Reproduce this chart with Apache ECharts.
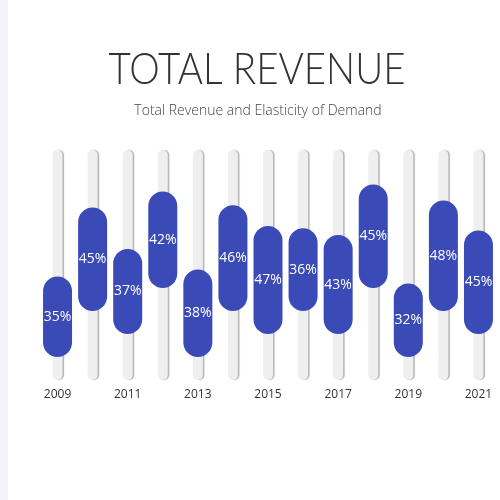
<!DOCTYPE html>
<html>
<head>
<meta charset="utf-8">
<script src="https://cdn.jsdelivr.net/npm/echarts@6/dist/echarts.min.js"></script>
<style>
  html, body { margin: 0; padding: 0; background: #fff; }
  #main { width: 500px; height: 500px; }
</style>
</head>
<body>
<div id="main"></div>
<script>
// chart data
var years = ['2009', '2010', '2011', '2012', '2013', '2014', '2015', '2016', '2017', '2018', '2019', '2020', '2021'];
var pillStart = [10, 30, 20, 40, 10, 30, 20, 30, 20, 40, 10, 30, 20];
var elasticity = [35, 45, 37, 42, 38, 46, 47, 36, 43, 45, 32, 48, 45];
var trackMax = 100;

var trackData = years.map(function () { return trackMax; });

var myChart = echarts.init(document.getElementById('main'));

var option = {
	backgroundColor: '#fff',
	animation: false,
	graphic: [{
		type: 'rect',
		shape: { x: 0, y: 0, width: 8, height: 500 },
		style: { fill: '#f3f3f8' },
		silent: true
	}, {
		type: 'text',
		x: 257,
		y: 70,
		scaleX: 0.875,
		style: {
			text: 'TOTAL REVENUE',
			fill: '#333',
			font: '300 44px Lato, sans-serif',
			textAlign: 'center',
			textVerticalAlign: 'middle'
		}
	}, {
		type: 'text',
		x: 258,
		y: 111,
		style: {
			text: 'Total Revenue and Elasticity of Demand',
			fill: '#444',
			font: '300 14px "Open Sans", sans-serif',
			textAlign: 'center',
			textVerticalAlign: 'middle'
		}
	}],
	grid: {
		left: 40,
		right: 4,
		top: 150,
		bottom: 120
	},
	xAxis: [{
		type: 'category',
		data: years,
		axisLine: { show: false },
		axisTick: { show: false },
		axisLabel: {
			interval: 1,
			color: '#333',
			fontSize: 12,
			margin: 9,
			fontFamily: 'Open Sans'
		}
	}, {
		type: 'category',
		data: years,
		show: false
	}],
	yAxis: {
		type: 'value',
		min: 0,
		max: trackMax,
		show: false
	},
	series: [{
		name: 'track',
		type: 'bar',
		xAxisIndex: 1,
		barWidth: 10,
		silent: true,
		itemStyle: {
			color: '#efefef',
			borderRadius: 5,
			shadowColor: 'rgba(0,0,0,0.3)',
			shadowOffsetX: 1.5,
			shadowBlur: 1
		},
		data: trackData
	}, {
		name: 'start',
		type: 'bar',
		stack: 'pill',
		barWidth: 29,
		silent: true,
		itemStyle: { color: 'transparent' },
		data: pillStart
	}, {
		name: 'elasticity',
		type: 'bar',
		stack: 'pill',
		barWidth: 29,
		itemStyle: {
			color: '#3a4bb7',
			borderRadius: 15
		},
		label: {
			show: true,
			position: 'inside',
			color: '#fff',
			fontSize: 14,
			fontFamily: 'Open Sans',
			formatter: function (p) { return p.value + '%'; }
		},
		data: elasticity
	}]
};

myChart.setOption(option);
</script>
</body>
</html>
